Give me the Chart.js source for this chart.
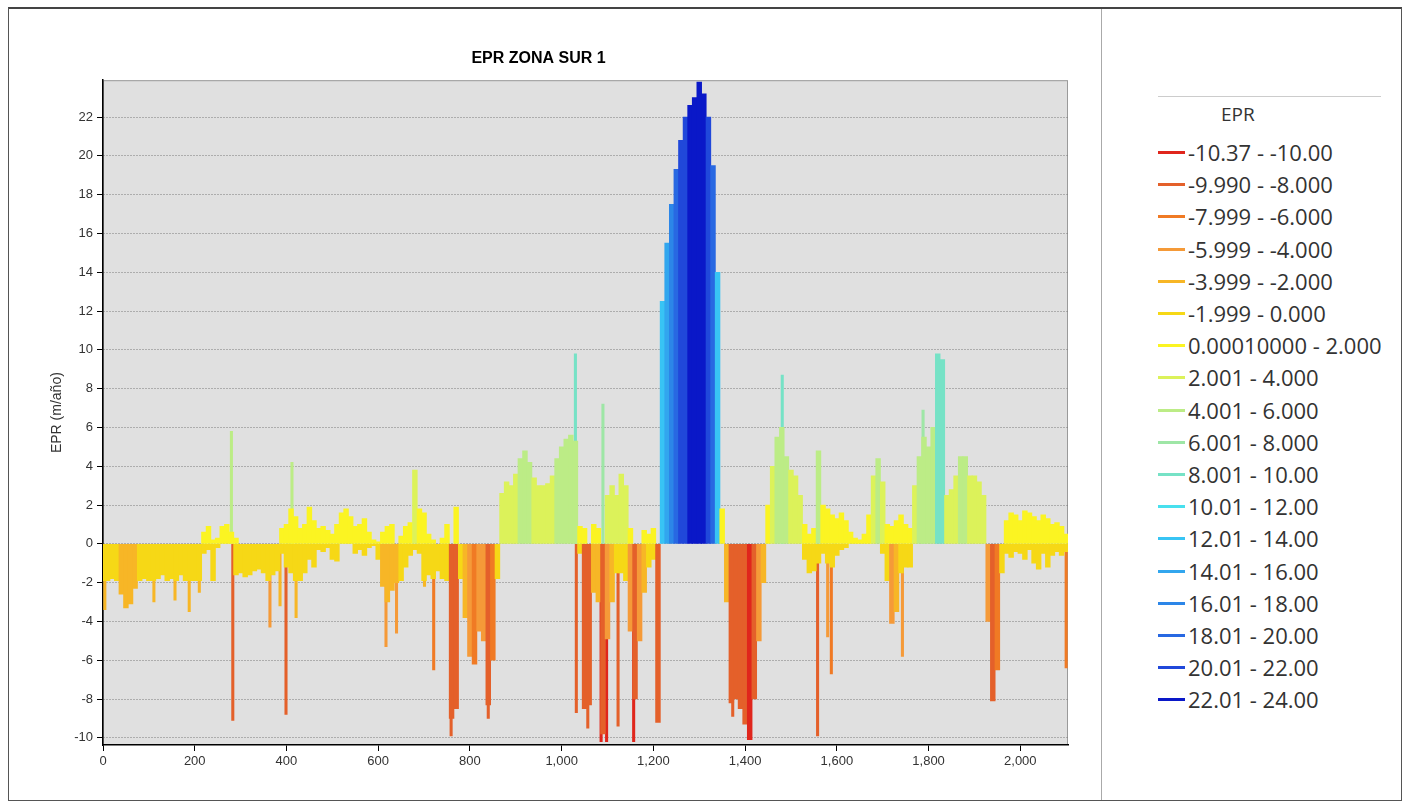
<!DOCTYPE html>
<html>
<head>
<meta charset="utf-8">
<title>EPR ZONA SUR 1</title>
<script src="https://cdn.jsdelivr.net/npm/chart.js@4.4.1/dist/chart.umd.min.js"></script>
<style>
  body { margin: 0; background: #fff; font-family: "Liberation Sans", Arial, sans-serif; }
  #frame {
    position: absolute; left: 8px; top: 7px; width: 1392px; height: 791px;
    border: 1px solid #555; border-top: 2px solid #444;
  }
  #chartBox {
    position: absolute; left: 0; top: 0; width: 1092px; height: 791px;
    border-right: 1px solid #aaa;
  }
  #legend {
    position: absolute; left: 1093px; top: 0; width: 279px; height: 791px; overflow: hidden;
    font-family: "Open Sans", "Noto Sans", sans-serif; color: #333;
  }
  #legend .rule { position: absolute; left: 56px; top: 87px; width: 223px; height: 1px; background: #ccc; }
  #legend .head { position: absolute; left: 119px; top: 92px; font-size: 19px; line-height: 26px; }
  #legend .row { position: absolute; left: 56px; height: 30px; white-space: nowrap; }
  #legend .swatch { position: absolute; left: 0; top: 14px; width: 27px; height: 3px; }
  #legend .txt { position: absolute; left: 30px; top: 0; font-size: 22px; line-height: 30px; }
</style>
</head>
<body>
<div id="frame">
  <div id="chartBox"><canvas id="eprChart"></canvas></div>
  <div id="legend"><div class="rule"></div><div class="head">EPR</div></div>
</div>
<script>
// transects every 10 units along the shore (0 .. 2100)
const BIN = 10;

// strongest accretion (m/año) read inside each 10-transect bin
const accretion = [
  0, 0, 0, 0, 0, 0, 0, 0, 0, 0,
  0, 0, 0, 0, 0, 0, 0, 0, 0, 0,
  0, 0, 0.6, 0.9, 0.2, 0.3, 0.9, 1.0, 0.6, 0.3,
  0, 0, 0, 0, 0, 0, 0, 0, 0, 0.8,
  1.0, 1.8, 1.4, 0.8, 1.0, 1.9, 1.2, 0.8, 0.9, 0.7,
  0.5, 1.0, 1.6, 1.8, 1.4, 0.9, 1.0, 1.3, 0.6, 0.2,
  0.1, 0.6, 0.9, 1.0, 0, 0.4, 0.9, 1.1, 3.8, 1.8,
  1.6, 0.5, 0.2, 0, 0.3, 1.0, 0, 1.9, 0, 0,
  0, 0, 0, 0, 0, 0, 0, 2.6, 3.2, 3.0,
  3.6, 4.4, 4.8, 4.2, 3.4, 3.0, 3.0, 3.1, 3.5, 4.4,
  5.0, 5.4, 5.6, 5.3, 0.9, 0.8, 0, 1.0, 0.8, 0,
  2.5, 3.0, 2.5, 3.6, 3.0, 0.8, 0, 0, 0.7, 0.5,
  0.8, 0, 12.5, 15.5, 17.5, 19.3, 20.8, 22.0, 22.6, 23.0,
  23.8, 23.2, 22.0, 19.5, 14.0, 1.8, 0, 0, 0, 0,
  0, 0, 0, 0, 0, 2.0, 4.0, 5.5, 6.0, 4.5,
  3.8, 3.5, 2.5, 1.0, 0.5, 0.8, 4.8, 2.0, 1.8, 1.5,
  1.3, 1.6, 1.2, 0.6, 0.3, 0.2, 0.5, 1.5, 3.5, 4.4,
  3.2, 1.0, 0.9, 1.2, 1.5, 1.0, 0.8, 3.0, 4.5, 5.5,
  5.0, 6.0, 9.8, 9.5, 2.5, 2.8, 3.5, 4.5, 4.5, 3.5,
  3.5, 3.2, 2.5, 0, 0, 0, 0, 1.2, 1.6, 1.5,
  1.2, 1.7, 1.6, 1.4, 1.2, 1.5, 1.3, 1.0, 1.1, 0.9,
  0.5
];

// strongest erosion (m/año) read inside each 10-transect bin
const erosion = [
  -1.9, -1.9, -1.8, -1.9, -2.6, -3.3, -3.1, -2.3, -1.9, -1.8,
  -1.9, -1.9, -1.8, -1.6, -1.9, -1.8, -1.9, -1.6, -1.9, -1.9,
  -1.9, -1.9, -0.5, -0.3, -1.9, -0.2, 0, 0, 0, -1.6,
  -1.5, -1.7, -1.6, -1.4, -1.3, -1.5, -1.9, -1.6, -1.4, -0.5,
  -1.2, -1.5, -1.9, -1.9, -1.5, -0.8, -1.2, -0.3, -0.4, -0.2,
  -0.8, -0.9, 0, 0, 0, -0.5, -0.3, -0.6, -0.2, -0.1,
  -0.8, -2.2, -3.0, -2.4, -2.0, -1.9, -1.2, -0.6, -0.3, -0.5,
  -1.9, -1.6, -1.8, -1.4, -1.8, -1.9, -9.0, -8.5, -1.8, -3.8,
  -5.8, -6.2, -4.5, -5.0, -8.3, -6.0, -1.8, 0, 0, 0,
  0, 0, 0, 0, 0, 0, 0, 0, 0, 0,
  0, 0, 0, 0, -0.5, -8.5, -8.3, -2.5, -3.0, -9.8,
  -4.9, -3.0, -1.5, -1.5, -1.9, -4.5, -8.0, -5.0, -2.5, -1.2,
  -0.8, -9.2, 0, 0, 0, 0, 0, 0, 0, 0,
  0, 0, 0, 0, 0, 0, -3.0, -8.2, -8.0, -8.5,
  -9.3, -10.1, -8.0, -5.0, -2.0, 0, 0, 0, 0, 0,
  0, 0, 0, -0.8, -1.5, -1.4, -1.0, -0.5, -1.0, -1.2,
  -0.6, -0.3, -0.2, 0, 0, 0, 0, 0, 0, 0,
  -0.5, -1.9, -4.1, -3.5, -1.5, -1.2, -1.2, 0, 0, 0,
  0, 0, 0, 0, 0, 0, 0, 0, 0, 0,
  0, 0, 0, -4.0, -8.1, -6.5, -1.5, -0.5, -0.7, -0.4,
  -0.5, -0.8, -0.3, -1.0, -1.3, -0.5, -1.2, -0.6, -0.4, -0.6,
  -0.4
];

// single transects that stand out as thin spikes
const spikeIds = [4, 111, 157, 188, 210, 280, 283, 364, 386, 399, 412, 421, 617, 640, 701, 721, 759, 840,
  1030, 1032, 1057, 1086, 1090, 1098, 1123, 1157, 1373, 1481, 1558, 1580, 1588, 1743, 1788, 2100];
const spikeValues = [-3.4, -3.0, -2.9, -3.5, -2.5, 5.8, -9.1, -4.3, -3.2, -8.8, 4.2, -3.8, -5.3, -4.6, -2.2, -6.5, -9.9, -9.0,
  9.8, -8.7, -9.5, -10.2, 7.2, -10.2, -9.4, -10.2, -8.9, 8.7, -9.9, -4.8, -6.7, -5.8, 6.9, -6.4];

// EPR classes (upper bound of each class) and legend
const classUpper = [-10.0, -8.0, -6.0, -4.0, -2.0, 0.0, 2.0, 4.0, 6.0, 8.0, 10.0, 12.0, 14.0, 16.0, 18.0, 20.0, 22.0, 24.0];
const classLabels = [
  "-10.37 - -10.00", "-9.990 - -8.000", "-7.999 - -6.000", "-5.999 - -4.000", "-3.999 - -2.000",
  "-1.999 - 0.000", "0.00010000 - 2.000", "2.001 - 4.000", "4.001 - 6.000", "6.001 - 8.000",
  "8.001 - 10.00", "10.01 - 12.00", "12.01 - 14.00", "14.01 - 16.00", "16.01 - 18.00",
  "18.01 - 20.00", "20.01 - 22.00", "22.01 - 24.00"
];
const classColors = [
  "#e0261c", "#e4602a", "#f07a24", "#f59a38", "#f7b626",
  "#f6d816", "#fbf422", "#dcf25a", "#bcec86", "#9ee6a6",
  "#76e2c6", "#48e0ee", "#38c4f4", "#32a6ee", "#2c86e8",
  "#2868e2", "#2048da", "#0a18c8"
];

const xTicks = { min: 0, max: 2104, step: 200 };
const yTicks = { min: -10.37, max: 23.9, step: 2 };

function classColor(v) {
  for (let i = 0; i < classUpper.length; i++) {
    if (v <= classUpper[i]) return classColors[i];
  }
  return classColors[classColors.length - 1];
}

function toPoints(ids, values) {
  return values.map((v, i) => ({ x: ids[i], y: v === 0 ? null : v }));
}

const barColor = (c) => classColor(c.raw && c.raw.y !== null ? c.raw.y : 0);

const binIds = accretion.map((_, i) => i * BIN);

// legend panel
const legendEl = document.getElementById("legend");
classLabels.forEach((lab, i) => {
  const row = document.createElement("div");
  row.className = "row";
  row.style.top = (128 + i * 32.2) + "px";
  row.innerHTML = '<div class="swatch" style="background:' + classColors[i] + '"></div><div class="txt">' + lab + "</div>";
  legendEl.appendChild(row);
});

const plotBackground = {
  id: "plotBackground",
  beforeDraw(chart) {
    const { ctx, chartArea: a } = chart;
    ctx.save();
    ctx.fillStyle = "#e0e0e0";
    ctx.fillRect(a.left, a.top, a.right - a.left, a.bottom - a.top);
    ctx.strokeStyle = "#9a9a9a";
    ctx.lineWidth = 1;
    ctx.strokeRect(a.left + 0.5, a.top + 0.5, a.right - a.left - 1, a.bottom - a.top - 1);
    ctx.restore();
  },
};

const ctx = document.getElementById("eprChart").getContext("2d");
new Chart(ctx, {
  type: "bar",
  data: {
    datasets: [
      { label: "Acreción", data: toPoints(binIds, accretion), barThickness: 4.8,
        backgroundColor: barColor, borderWidth: 0 },
      { label: "Erosión", data: toPoints(binIds, erosion), barThickness: 4.8,
        backgroundColor: barColor, borderWidth: 0 },
      { label: "Transectos", data: toPoints(spikeIds, spikeValues), barThickness: 2.4,
        backgroundColor: barColor, borderWidth: 0 },
    ],
  },
  options: {
    responsive: true,
    maintainAspectRatio: false,
    animation: false,
    datasets: { bar: { grouped: false } },
    layout: { padding: { left: 0, right: 33, top: 0, bottom: 0 } },
    plugins: {
      colors: { enabled: false },
      legend: { display: false },
      tooltip: { enabled: false },
      title: {
        display: true,
        text: "EPR ZONA SUR 1",
        color: "#000",
        font: { family: "Liberation Sans", size: 16, weight: "bold" },
        padding: { top: 40, bottom: 12 },
      },
    },
    scales: {
      x: {
        type: "linear",
        min: xTicks.min,
        max: xTicks.max,
        offset: false,
        afterFit: (s) => { s.height = 55; },
        grid: { drawOnChartArea: false, offset: false, tickLength: 6, tickColor: "#000", color: "#000" },
        border: { color: "#000", width: 1.5 },
        ticks: {
          stepSize: xTicks.step,
          includeBounds: false,
          autoSkip: false,
          maxRotation: 0,
          padding: 3,
          color: "#333",
          font: { family: "Liberation Sans", size: 13 },
          callback: (v) => v.toLocaleString("en-US"),
        },
      },
      y: {
        min: yTicks.min,
        max: yTicks.max,
        afterFit: (s) => { s.width = 94; },
        grid: { color: "#7a7a7a", tickColor: "#000", tickLength: 6 },
        border: { color: "#000", width: 1.5, dash: [1, 2] },
        ticks: {
          stepSize: yTicks.step,
          includeBounds: false,
          padding: 4,
          color: "#333",
          font: { family: "Liberation Sans", size: 13 },
        },
        title: {
          display: true,
          text: "EPR (m/año)",
          color: "#333",
          font: { family: "Liberation Sans", size: 14 },
          padding: { top: 40, bottom: 0 },
        },
      },
    },
  },
  plugins: [plotBackground],
});
</script>
</body>
</html>
